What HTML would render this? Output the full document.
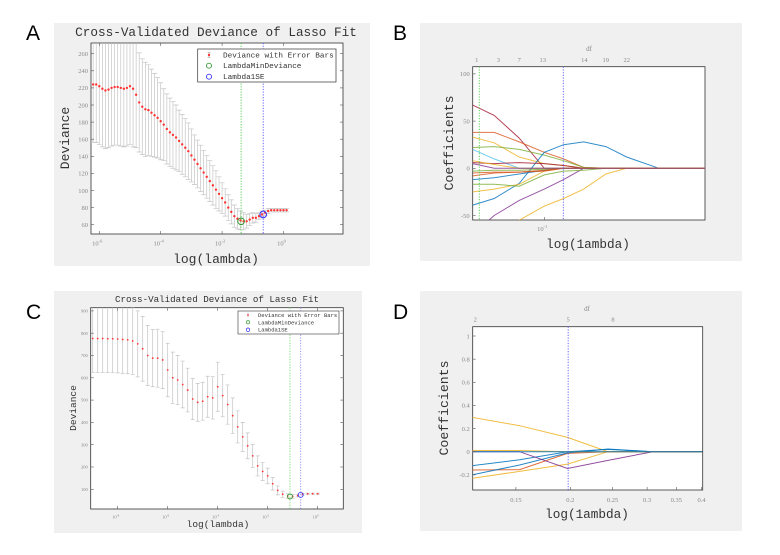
<!DOCTYPE html>
<html><head><meta charset="utf-8"><style>
body{margin:0;background:#fff;width:780px;height:555px;overflow:hidden}
svg{display:block}
.tk{font-family:"Liberation Serif",serif;fill:#888}
.mono{font-family:"Liberation Mono",monospace;fill:#333}
.pl{font-family:"Liberation Sans",sans-serif;fill:#000;font-size:21px}
</style></head><body>
<svg id="fig" width="780" height="555" xmlns="http://www.w3.org/2000/svg">
<rect x="54" y="23" width="316" height="243" fill="#f0f0f0"/>
<rect x="420" y="23" width="322" height="238" fill="#f0f0f0"/>
<rect x="54" y="291" width="308" height="242" fill="#f0f0f0"/>
<rect x="420" y="291" width="322" height="240" fill="#f0f0f0"/>
<text class="pl" x="26" y="40">A</text>
<text class="pl" x="393" y="40">B</text>
<text class="pl" x="26" y="319">C</text>
<text class="pl" x="393" y="319">D</text>
<defs>
<clipPath id="clipA"><rect x="91" y="43" width="252" height="191"/></clipPath>
<clipPath id="clipB"><rect x="472.7" y="66.7" width="232.3" height="153.3"/></clipPath>
<clipPath id="clipC"><rect x="90.7" y="307.7" width="252.6" height="201.3"/></clipPath>
<clipPath id="clipD"><rect x="472.7" y="326.7" width="230" height="163.3"/></clipPath>
</defs>
</svg>
<script>
// ---- Panel A data ----
const aLogLambda = [-6.3,-6.2,-6.1,-6.0,-5.9,-5.8,-5.7,-5.6,-5.5,-5.4,-5.3,-5.2,-5.1,-5.0,-4.9,-4.8,-4.7,-4.6,-4.5,-4.4,-4.3,-4.2,-4.1,-4.0,-3.9,-3.8,-3.7,-3.6,-3.5,-3.4,-3.3,-3.2,-3.1,-3.0,-2.9,-2.8,-2.7,-2.6,-2.5,-2.4,-2.3,-2.2,-2.1,-2.0,-1.9,-1.8,-1.7,-1.6,-1.5,-1.4,-1.3,-1.2,-1.1,-1.0,-0.9,-0.8,-0.7,-0.6,-0.5,-0.4,-0.3,-0.2,-0.1,0.0,0.1];
const aDeviance = [226,224,224,222,219,217,218,220,221,221,220,219,220,222,219,212,203,198,195,194,191,188,185,181,177,172,168,165,162,158,154,150,146,141,136,131,126,121,116,111,106,101,96,91,86,80,75,70,67,65,64,64,66,68,68,70,72,74,76,77,77,77,77,77,77];
const aSE = [68,68,68,68,68,68,68,68,68,68,68,68,68,68,68,62,58,56,55,53,51,49,47,45,42,41,40,39,38,36,35,34,33,31,29,28,27,26,25,24,23,22,20,18,16,15,14,13,12,11,10,8,7,6,5,4,4,3,3,2,2,2,2,2,2];
const aYTicks = [60,80,100,120,140,160,180,200,220,240,260];
const aXTicks = [-6,-4,-2,0];
const aMinLog = -1.38, aMinDev = 64, a1seLog = -0.66, a1seDev = 72;
// ---- Panel B data ----
const bKnots = [0,-0.3,-0.65,-1.0,-1.27,-1.55,-1.86,-2.15,-2.6,-3.24];
const bSeries = [
 [67,56,32,0,0,0,0,0,0,0],
 [38,38,28,17,10,1,0,0,0,0],
 [33,27,12,5,3,0,0,0,0,0],
 [22,23,20,14,8,1,0,0,0,0],
 [20,10,0,0,0,0,0,0,0,0],
 [-39,-32,-16,17,25,28,23,12,0,0],
 [-70,-50,-34,-22,-12,0,0,0,0,0],
 [-90,-75,-55,-40,-32,-22,-6,0,0,0],
 [-25,-22,-17,-3,0,0,0,0,0,0],
 [-17,-17,-19,-7,-3,-2,0,0,0,0],
 [-12,-10,-6,-2,0,0,0,0,0,0],
 [-8,-5,-4,-3,0,0,0,0,0,0],
 [6,5,6,5,3,0,0,0,0,0],
 [-3,-2,-2,-1,0,0,0,0,0,0],
 [-5,-4,-4,-2,0,0,0,0,0,0],
 [8,4,0,0,0,0,0,0,0,0],
 [5,0,0,0,0,0,0,0,0,0]
];
const bColors = ["#A2142F","#D95319","#EDB120","#77AC30","#4DBEEE","#0072BD","#7E2F8E","#EDB120","#EDB120","#77AC30","#0072BD","#D95319","#A2142F","#77AC30","#D95319","#EDB120","#7E2F8E"];
const bYTicks = [-50,0,50,100];
const bDfLabels = ["1","3","7","13","14","19","22"];
const bDfLog = [-0.056,-0.358,-0.651,-0.978,-1.559,-1.858,-2.151];
const bMinLog = -0.092, b1seLog = -1.265;
// ---- Panel C data ----
const cLogLambda = [-9.0,-8.8,-8.6,-8.4,-8.2,-8.0,-7.8,-7.6,-7.4,-7.2,-7.0,-6.8,-6.6,-6.4,-6.2,-6.0,-5.8,-5.6,-5.4,-5.2,-5.0,-4.8,-4.6,-4.4,-4.2,-4.0,-3.8,-3.6,-3.4,-3.2,-3.0,-2.8,-2.6,-2.4,-2.2,-2.0,-1.8,-1.6,-1.4,-1.2,-1.0,-0.8,-0.6,-0.4,-0.2,0.0];
const cDeviance = [776,776,776,775,775,774,772,770,765,752,730,700,688,688,680,635,600,590,570,545,505,490,495,515,510,560,520,480,430,380,335,295,250,205,180,160,125,95,78,70,68,72,78,80,80,80];
const cSE = [152,152,152,152,152,152,152,152,150,148,145,135,128,130,128,120,115,110,105,98,92,85,85,92,95,110,95,88,80,72,65,58,52,45,40,35,28,20,14,10,8,6,4,3,3,3];
const cYTicks = [100,200,300,400,500,600,700,800,900];
const cXTicks = [-8,-6,-4,-2,0];
const cMinLog = -1.11, cMinDev = 68, c1seLog = -0.68, c1seDev = 75;
// ---- Panel D data ----
const dKnots = [0.119,0.153,0.197,0.244,0.309,0.402];
const dSeries = [
 [0.297,0.225,0.124,0,0,0],
 [-0.23,-0.17,-0.107,0,0,0],
 [-0.158,-0.155,-0.015,0,0,0],
 [-0.2,-0.115,-0.01,0.023,0,0],
 [-0.121,-0.07,0,0.02,0,0],
 [0,0,-0.145,-0.075,0,0],
 [0.01,0.01,0,0,0,0],
 [0,0,0,0,0,0]
];
const dColors = ["#EDB120","#EDB120","#D95319","#0072BD","#0072BD","#7E2F8E","#EDB120","#0072BD"];
const dYTicks = [-0.2,0,0.2,0.4,0.6,0.8,1];
const dXTicks = [0.15,0.2,0.25,0.3,0.35,0.4];
const dDfLabels = ["2","5","8"];
const dDfLambda = [0.121,0.1977,0.2506];
const d1seLambda = 0.1977;

const NS="http://www.w3.org/2000/svg";
const svg=document.getElementById('fig');
function mk(p,tag,at,txt){const e=document.createElementNS(NS,tag);for(const k in at)e.setAttribute(k,at[k]);if(txt!==undefined)e.textContent=txt;p.appendChild(e);return e;}
function grp(name,clip){const g=mk(svg,'g',clip?{'clip-path':'url(#'+clip+')'}:{});


return g;}

// scales
const xA=v=>91+(v+6.27)*30.7, yA=v=>224.7-(v-60)*17.1/20;
const xB=v=>472.7-v*71.6, yB=v=>168.3-v*47.2/50;
const xC=v=>317.7+v*25, yC=v=>489.3-(v-100)*22.3/100;
const xD=l=>472.7+(Math.log10(l)+0.923)*435.9, yD=v=>451.7-v*115.7;

function axesBox(name,x0,y0,x1,y1,white){
 const r=mk(svg,'rect',{x:x0,y:y0,width:x1-x0,height:y1-y0,fill:white?'#fff':'#fff',stroke:'#333','stroke-width':0.8});
 
 
}
function yTicks(name,ticks,ys,x0,x1,fs){
 const g=grp(name);
 ticks.forEach(t=>{const y=ys(t);
  mk(g,'line',{x1:x0,x2:x0+3,y1:y,y2:y,stroke:'#555','stroke-width':0.6});
  if(x1)mk(g,'line',{x1:x1,x2:x1-3,y1:y,y2:y,stroke:'#555','stroke-width':0.6});
  const t2=mk(g,'text',{x:x0-3,y:y+fs*0.35,'text-anchor':'end','font-size':fs,class:'tk'},String(t));
  
  
 });
}
function xTicksPow(name,ticks,xs,y0,y1,fs){
 const g=grp(name);
 ticks.forEach(t=>{const x=xs(t);
  mk(g,'line',{x1:x,x2:x,y1:y0,y2:y0-3,stroke:'#555','stroke-width':0.6});
  mk(g,'line',{x1:x,x2:x,y1:y1,y2:y1+3,stroke:'#555','stroke-width':0.6});
  const tt=mk(g,'text',{x:x-2,y:y0+fs+5,'text-anchor':'middle','font-size':fs,class:'tk'});
  
  
  mk(tt,'tspan',{},'10');
  mk(tt,'tspan',{dy:-fs*0.5,'font-size':fs*0.7},String(t));
 });
}
function label(name,x,y,txt,fs,rot){
 const at={x:x,y:y,'text-anchor':'middle','font-size':fs,class:'mono'};
 if(rot)at.transform='rotate(-90 '+x+' '+y+')';
 const t=mk(svg,'text',at,txt);
 
 
}
function vline(name,x,y0,y1,color){
 const l=mk(svg,'line',{x1:x,x2:x,y1:y0,y2:y1,stroke:color,'stroke-width':0.9,'stroke-dasharray':'1.2,1.5'});
 
 
}
function cvPanel(p,xs,ys,lx,dv,se,cap,r,clip){
 const g=grp('panel-'+p+'-error-bars',clip);
 lx.forEach((v,i)=>{const x=xs(v),yt=ys(dv[i]+se[i]),yb=ys(dv[i]-se[i]);
  const b=mk(g,'path',{d:'M'+x+' '+yt+'V'+yb+'M'+(x-cap)+' '+yt+'H'+(x+cap)+'M'+(x-cap)+' '+yb+'H'+(x+cap),stroke:'#c4c4c4','stroke-width':0.7,fill:'none'});
  
  
 });
 const g2=grp('panel-'+p+'-deviance-points',clip);
 lx.forEach((v,i)=>{
  const c=mk(g2,'circle',{cx:xs(v),cy:ys(dv[i]),r:r,fill:'#f33'});
  
  
 });
}

// ===== Panel A =====
axesBox('panel-a-axes',91,43,343,234);
cvPanel('a',xA,yA,aLogLambda,aDeviance,aSE,2.5,1.2,'clipA');
vline('panel-a-lambda-min-line',xA(aMinLog),43,234,'#4c4');
vline('panel-a-lambda-1se-line',xA(a1seLog),43,234,'#55f');
{const c=mk(svg,'circle',{cx:xA(aMinLog),cy:yA(aMinDev),r:3.3,fill:'none',stroke:'#393','stroke-width':1});


const c2=mk(svg,'circle',{cx:xA(a1seLog),cy:yA(a1seDev),r:3.3,fill:'none',stroke:'#33f','stroke-width':1});

}
yTicks('panel-a-y-ticks',aYTicks,yA,91,343,6.5);
xTicksPow('panel-a-x-ticks',aXTicks,xA,234,43,6.5);
label('panel-a-title',216,36,'Cross-Validated Deviance of Lasso Fit',12.7);
label('panel-a-y-axis-title',69,138,'Deviance',13,true);
label('panel-a-x-axis-title',216,263,'log(lambda)',13);
{const lg=grp('panel-a-legend');
mk(lg,'rect',{x:197.7,y:49,width:138.3,height:33,fill:'#fff',stroke:'#333','stroke-width':0.7});
mk(lg,'path',{d:'M209 52.5V57.5M207.5 52.5H210.5M207.5 57.5H210.5',stroke:'#999','stroke-width':0.6});
mk(lg,'circle',{cx:209,cy:55,r:1.2,fill:'#f33'});
mk(lg,'circle',{cx:209,cy:65.7,r:2.5,fill:'none',stroke:'#393','stroke-width':0.9});
mk(lg,'circle',{cx:209,cy:76.7,r:2.5,fill:'none',stroke:'#33f','stroke-width':0.9});
['Deviance with Error Bars','LambdaMinDeviance','Lambda1SE'].forEach((t,i)=>{
 const e=mk(lg,'text',{x:223,y:[57.5,68.2,79.2][i],'font-size':7.7,class:'mono'},t);
 
 
});}

// ===== Panel B =====
axesBox('panel-b-axes',472.7,66.7,705,220);
{const g=grp('panel-b-coefficient-paths','clipB');
bSeries.forEach((s,i)=>{
 const d=s.map((v,j)=>(j?'L':'M')+xB(bKnots[j]).toFixed(1)+' '+yB(v).toFixed(1)).join('')+'L705 '+yB(0);
 const pth=mk(g,'path',{d:d,fill:'none',stroke:bColors[i],'stroke-width':1,opacity:0.8});
 
 
});}
vline('panel-b-lambda-min-line',xB(bMinLog),66.7,220,'#4c4');
vline('panel-b-lambda-1se-line',xB(b1seLog),66.7,220,'#55f');
yTicks('panel-b-y-ticks',bYTicks,yB,472.7,0,6.5);
{const g=grp('panel-b-x-ticks');
const x=xB(-1);mk(g,'line',{x1:x,x2:x,y1:220,y2:217,stroke:'#555','stroke-width':0.6});
const tt=mk(g,'text',{x:x-2,y:231,'text-anchor':'middle','font-size':6.5,class:'tk'});


mk(tt,'tspan',{},'10');mk(tt,'tspan',{dy:-3,'font-size':4.5},'-1');}
{const g=grp('panel-b-df-ticks');
bDfLabels.forEach((t,i)=>{const e=mk(g,'text',{x:xB(bDfLog[i]),y:62,'text-anchor':'middle','font-size':6.5,class:'tk'},t);

});
const e=mk(g,'text',{x:589,y:51,'text-anchor':'middle','font-size':7,class:'tk'},'df');

}
label('panel-b-y-axis-title',453,143,'Coefficients',13.2,true);
label('panel-b-x-axis-title',588,248,'log(1ambda)',12.7);

// ===== Panel C =====
axesBox('panel-c-axes',90.7,307.7,343.3,509);
cvPanel('c',xC,yC,cLogLambda,cDeviance,cSE,2,0.9,'clipC');
vline('panel-c-lambda-min-line',xC(cMinLog),307.7,509,'#6d6');
vline('panel-c-lambda-1se-line',xC(c1seLog),307.7,509,'#88f');
{const c=mk(svg,'circle',{cx:xC(cMinLog),cy:yC(cMinDev),r:2.5,fill:'none',stroke:'#393','stroke-width':0.8});


const c2=mk(svg,'circle',{cx:xC(c1seLog),cy:yC(c1seDev),r:2.5,fill:'none',stroke:'#33f','stroke-width':0.8});

}
yTicks('panel-c-y-ticks',cYTicks,yC,90.7,343.3,4.5);
xTicksPow('panel-c-x-ticks',cXTicks,xC,509,307.7,4.5);
label('panel-c-title',217,302,'Cross-Validated Deviance of Lasso Fit',9.2);
label('panel-c-y-axis-title',76,408,'Deviance',9.5,true);
label('panel-c-x-axis-title',218,527,'log(lambda)',9.5);
{const lg=grp('panel-c-legend');
mk(lg,'rect',{x:238,y:311,width:101,height:23,fill:'#fff',stroke:'#333','stroke-width':0.6});
mk(lg,'path',{d:'M248 313V317',stroke:'#999','stroke-width':0.5});
mk(lg,'circle',{cx:248,cy:315,r:0.9,fill:'#f33'});
mk(lg,'circle',{cx:248,cy:322.3,r:1.7,fill:'none',stroke:'#393','stroke-width':0.7});
mk(lg,'circle',{cx:248,cy:329.7,r:1.7,fill:'none',stroke:'#33f','stroke-width':0.7});
['Deviance with Error Bars','LambdaMinDeviance','Lambda1SE'].forEach((t,i)=>{
 const e=mk(lg,'text',{x:258,y:[317,324.3,331.7][i],'font-size':5.5,class:'mono'},t);
 
 
});}

// ===== Panel D =====
axesBox('panel-d-axes',472.7,326.7,702.7,490);
{const g=grp('panel-d-coefficient-paths','clipD');
dSeries.forEach((s,i)=>{
 const d=s.map((v,j)=>(j?'L':'M')+xD(dKnots[j]).toFixed(1)+' '+yD(v).toFixed(1)).join('');
 const pth=mk(g,'path',{d:d,fill:'none',stroke:dColors[i],'stroke-width':1,opacity:0.85});
 
 
});}
vline('panel-d-lambda-1se-line',xD(d1seLambda),326.7,490,'#55f');
yTicks('panel-d-y-ticks',dYTicks,yD,472.7,0,6.5);
{const g=grp('panel-d-x-ticks');
dXTicks.forEach(t=>{const x=xD(t);
 mk(g,'line',{x1:x,x2:x,y1:490,y2:487,stroke:'#555','stroke-width':0.6});
 const e=mk(g,'text',{x:x,y:502,'text-anchor':'middle','font-size':6.5,class:'tk'},String(t));
 
 
});}
{const g=grp('panel-d-df-ticks');
dDfLabels.forEach((t,i)=>{const e=mk(g,'text',{x:xD(dDfLambda[i]),y:321.5,'text-anchor':'middle','font-size':6.5,class:'tk'},t);

});
const e=mk(g,'text',{x:587,y:311,'text-anchor':'middle','font-size':7,class:'tk'},'df');

}
label('panel-d-y-axis-title',448,408,'Coefficients',13.2,true);
label('panel-d-x-axis-title',587,518,'log(1ambda)',12.7);
</script>
</body></html>
